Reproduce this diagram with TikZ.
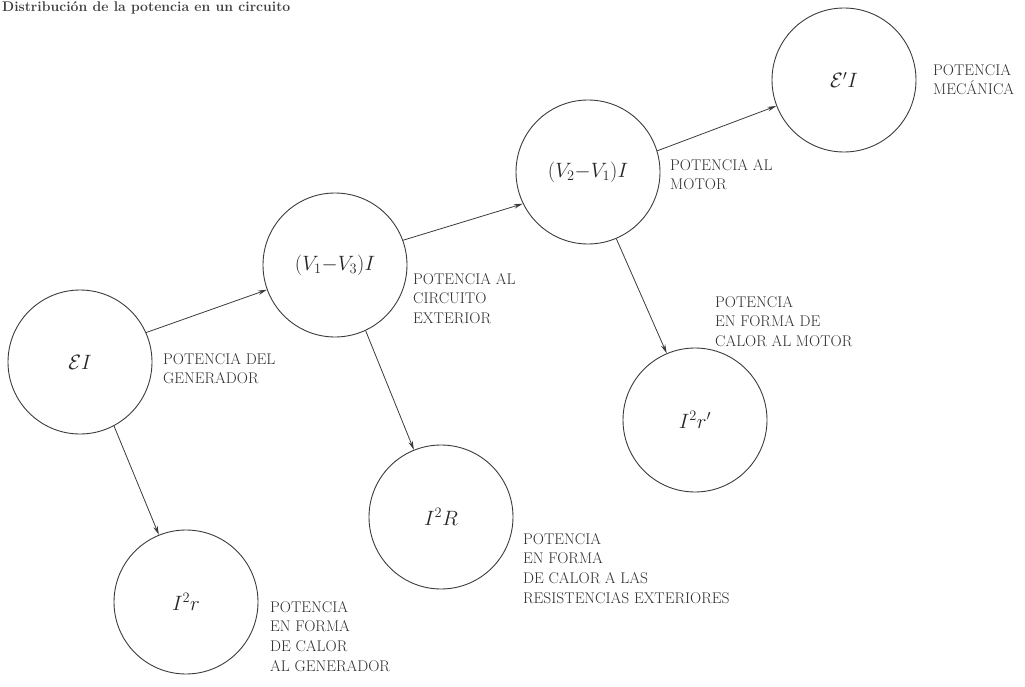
\documentclass[tikz,border=0pt]{standalone}
\usetikzlibrary{arrows.meta}
\definecolor{ink}{HTML}{3A3A3A}
\definecolor{lbl}{HTML}{2E2E2E}
\begin{document}
\begin{tikzpicture}[x=1pt,y=-1pt,
  pw/.style={circle,draw=ink,line width=0.9pt,minimum size=144pt,inner sep=0pt,
    font=\fontsize{20}{24}\selectfont,text=black!85},
  lab/.style={anchor=north west,inner sep=0pt,align=left,text=lbl,
    font=\fontsize{15.5}{19.8}\selectfont},
  flow/.style={draw=ink,line width=0.8pt,-{Stealth[length=9pt,width=4.5pt]}}]
\useasboundingbox (0,0) rectangle (1025,687);
\node[anchor=base west,inner sep=0pt,font=\fontsize{14}{16}\selectfont\bfseries,text=black!75] (title) at (2,11.5) {Distribución de la potencia en un circuito};
\node[pw] (ei) at (80,362) {$\mathcal{E}I$};
\node[pw] (v13) at (335,265) {$(V_1{-}V_3)I$};
\node[pw] (v21) at (588,172) {$(V_2{-}V_1)I$};
\node[pw] (epi) at (844,80) {$\mathcal{E}'I$};
\node[pw] (irr) at (186,602) {$I^2r$};
\node[pw] (iR) at (441,517) {$I^2R$};
\node[pw] (irp) at (695,420) {$I^2r'$};
\node[lab] (lei) at (163,353) {POTENCIA DEL\\GENERADOR};
\node[lab] (lv13) at (413,273) {POTENCIA AL\\CIRCUITO\\EXTERIOR};
\node[lab] (lv21) at (670,159) {POTENCIA AL\\MOTOR};
\node[lab] (lepi) at (933,64) {POTENCIA\\MECÁNICA};
\node[lab] (lirr) at (270,601) {POTENCIA\\EN FORMA\\DE CALOR\\AL GENERADOR};
\node[lab] (liR) at (523,533) {POTENCIA\\EN FORMA\\DE CALOR A LAS\\RESISTENCIAS EXTERIORES};
\node[lab] (lirp) at (715,296) {POTENCIA\\EN FORMA DE\\CALOR AL MOTOR};
\draw[flow] (ei.24) -- (v13.200);
\draw[flow] (v13.20) -- (v21.206);
\draw[flow] (v21.17) -- (epi.201);
\draw[flow] (ei.298) -- (irr.112);
\draw[flow] (v13.295) -- (iR.112);
\draw[flow] (v21.293) -- (irp.113);
\end{tikzpicture}
\end{document}
